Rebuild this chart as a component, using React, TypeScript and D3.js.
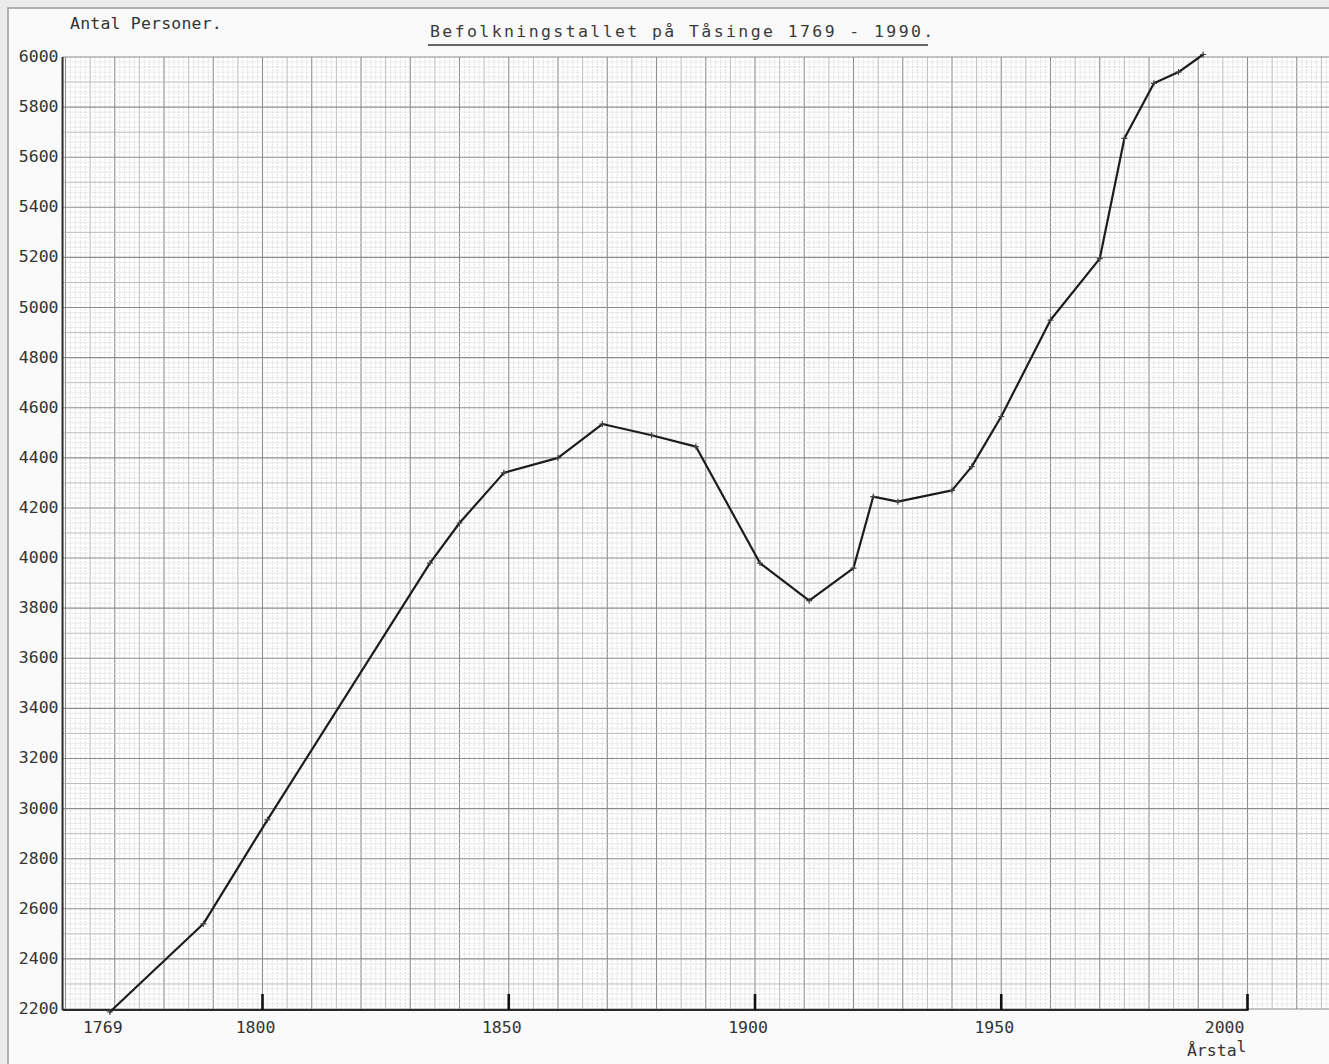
import { useEffect, useRef } from "react";
import * as d3 from "d3";

// census years and head counts
const years = [
  1769, 1788, 1801, 1834, 1840, 1849, 1860, 1869, 1879, 1888, 1901, 1911,
  1920, 1924, 1929, 1940, 1944, 1950, 1960, 1970, 1975, 1981, 1986, 1991,
];
const persons = [
  2188, 2540, 2955, 3980, 4140, 4340, 4400, 4535, 4490, 4445, 3980, 3830,
  3960, 4245, 4225, 4270, 4365, 4565, 4950, 5195, 5675, 5895, 5940, 6010,
];
const yTicks = [
  2200, 2400, 2600, 2800, 3000, 3200, 3400, 3600, 3800, 4000, 4200, 4400,
  4600, 4800, 5000, 5200, 5400, 5600, 5800, 6000,
];
const xTicks = [1800, 1850, 1900, 1950, 2000];
const xLabels = [1769, 1800, 1850, 1900, 1950, 2000];

const W = 1329;
const H = 1064;
const FONT = "'DejaVu Sans Mono', 'Liberation Mono', monospace";

export default function App() {
  const ref = useRef<SVGSVGElement>(null);

  useEffect(() => {
    draw();
  });

  function draw() {
    const svg = d3.select(ref.current);
    svg.selectAll("*").remove();

    const x = d3.scaleLinear().domain([1800, 2000]).range([262.5, 1247.5]);
    const y = d3.scaleLinear().domain([2200, 6000]).range([1009, 57]);

    const left = x(1759.4);
    const right = W;
    const top = y(6000);
    const bottom = y(2200);

    // scanned page
    svg.append("rect").attr("width", W).attr("height", H).attr("fill", "#ececec");
    svg
      .append("rect")
      .attr("x", 8)
      .attr("y", 8)
      .attr("width", W)
      .attr("height", H)
      .attr("fill", "#fafafa")
      .attr("stroke", "#9a9a9a")
      .attr("stroke-width", 1.5);

    // graph paper
    const grid = svg.append("g");
    grid
      .append("rect")
      .attr("x", left)
      .attr("y", top)
      .attr("width", right - left)
      .attr("height", bottom - top)
      .attr("fill", "#ffffff");

    const gridStyle = (i: number) =>
      i % 10 === 0
        ? { c: "#8c8c8c", w: 1.1 }
        : i % 5 === 0
        ? { c: "#b4b4b4", w: 0.9 }
        : { c: "#d4d4d4", w: 0.7 };

    d3.range(1760, 2017).forEach((yr) => {
      const s = gridStyle(yr);
      grid
        .append("line")
        .attr("x1", x(yr))
        .attr("x2", x(yr))
        .attr("y1", top)
        .attr("y2", bottom)
        .attr("stroke", s.c)
        .attr("stroke-width", s.w)
        .attr("stroke-dasharray", yr % 5 === 0 ? null : "2,1");
    });
    d3.range(0, 191).forEach((i) => {
      const v = 2200 + i * 20;
      const s = gridStyle(i);
      grid
        .append("line")
        .attr("x1", left)
        .attr("x2", right)
        .attr("y1", y(v))
        .attr("y2", y(v))
        .attr("stroke", s.c)
        .attr("stroke-width", s.w)
        .attr("stroke-dasharray", i % 5 === 0 ? null : "2,1");
    });

    // axes
    svg
      .append("line")
      .attr("x1", left)
      .attr("x2", left)
      .attr("y1", top)
      .attr("y2", bottom + 1)
      .attr("stroke", "#2a2a2a")
      .attr("stroke-width", 2);
    svg
      .append("line")
      .attr("x1", left)
      .attr("x2", x(2000) + 1)
      .attr("y1", bottom + 1)
      .attr("y2", bottom + 1)
      .attr("stroke", "#2a2a2a")
      .attr("stroke-width", 2);

    svg
      .selectAll("tick")
      .data(xTicks)
      .enter()
      .append("line")
      .attr("x1", (d) => x(d))
      .attr("x2", (d) => x(d))
      .attr("y1", bottom - 15)
      .attr("y2", bottom + 1)
      .attr("stroke", "#111")
      .attr("stroke-width", 2.6);

    // y labels
    svg
      .selectAll("ylab")
      .data(yTicks)
      .enter()
      .append("text")
      .attr("x", left - 4)
      .attr("y", (d) => y(d) + 5)
      .attr("text-anchor", "end")
      .attr("font-family", FONT)
      .attr("font-size", 16.5)
      .attr("fill", "#333")
      .text((d) => d);

    // x labels
    svg
      .selectAll("xlab")
      .data(xLabels)
      .enter()
      .append("text")
      .attr("x", (d) => (d === 2000 ? x(d) - 3 : x(d) - 7))
      .attr("y", bottom + 24)
      .attr("text-anchor", (d) => (d === 2000 ? "end" : "middle"))
      .attr("font-family", FONT)
      .attr("font-size", 16.5)
      .attr("fill", "#333")
      .text((d) => d);

    const unit = svg
      .append("text")
      .attr("x", x(2000) - 1)
      .attr("y", bottom + 47)
      .attr("text-anchor", "end")
      .attr("font-family", FONT)
      .attr("font-size", 16.5)
      .attr("fill", "#333");
    unit.append("tspan").text("Årsta");
    unit.append("tspan").attr("dy", -4).text("l");

    // y axis title and chart title
    svg
      .append("text")
      .attr("x", 70)
      .attr("y", 29)
      .attr("font-family", FONT)
      .attr("font-size", 16.5)
      .attr("letter-spacing", 0.2)
      .attr("fill", "#333")
      .text("Antal Personer.");
    svg
      .append("text")
      .attr("x", 430)
      .attr("y", 37)
      .attr("font-family", FONT)
      .attr("font-size", 16.5)
      .attr("letter-spacing", 2.4)
      .attr("fill", "#3a3a3a")
      .text("Befolkningstallet på Tåsinge 1769 - 1990.");
    svg
      .append("line")
      .attr("x1", 428)
      .attr("x2", 928)
      .attr("y1", 45)
      .attr("y2", 45)
      .attr("stroke", "#333")
      .attr("stroke-width", 1.6);

    // population line
    const data = years.map((yr, i) => [yr, persons[i]] as [number, number]);
    const line = d3
      .line<[number, number]>()
      .x((d) => x(d[0]))
      .y((d) => y(d[1]));
    svg
      .append("path")
      .datum(data)
      .attr("d", line)
      .attr("fill", "none")
      .attr("stroke", "#1c1c1c")
      .attr("stroke-width", 2.2)
      .attr("stroke-linejoin", "round")
      .attr("stroke-linecap", "round");

    svg
      .selectAll("mark")
      .data(data)
      .enter()
      .append("path")
      .attr("transform", (d) => `translate(${x(d[0])},${y(d[1])})`)
      .attr("d", "M-3,0H3M0,-3V3")
      .attr("stroke", "#444")
      .attr("stroke-width", 1.2);
  }

  return (
    <svg
      ref={ref}
      width={W}
      height={H}
      style={{ position: "absolute", left: 0, top: 0 }}
    ></svg>
  );
}
